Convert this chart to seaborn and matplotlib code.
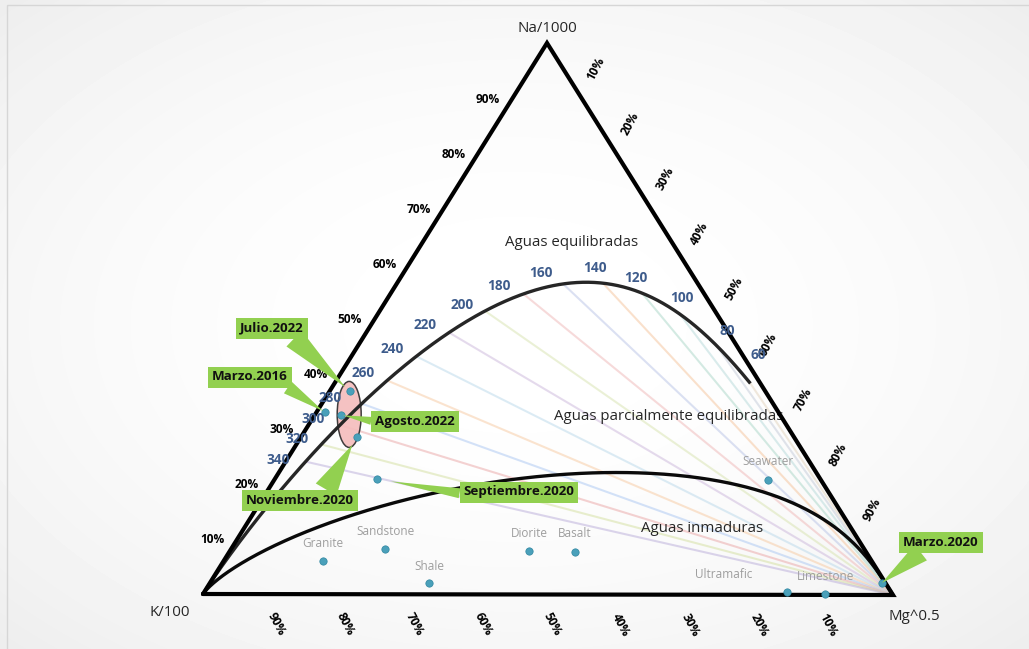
import numpy as np
import pandas as pd
import matplotlib
matplotlib.use("Agg")
import matplotlib.pyplot as plt
from matplotlib.patches import Ellipse, Rectangle
import seaborn as sns

# ---------------------------------------------------------------------------
# Data: relative proportions of Na/1000, K/100 and Mg^0.5
# ---------------------------------------------------------------------------
sample_names = ["Julio.2022", "Marzo.2016", "Agosto.2022",
                "Noviembre.2020", "Septiembre.2020", "Marzo.2020"]
sample_na = [0.368, 0.330, 0.325, 0.285, 0.209, 0.022]
sample_k = [0.603, 0.658, 0.637, 0.634, 0.643, 0.005]
sample_mg = [0.029, 0.012, 0.038, 0.081, 0.148, 0.973]

rock_names = ["Granite", "Sandstone", "Shale", "Diorite", "Basalt",
              "Seawater", "Ultramafic", "Limestone"]
rock_na = [0.060, 0.082, 0.020, 0.078, 0.078, 0.209, 0.005, 0.002]
rock_k = [0.796, 0.695, 0.662, 0.488, 0.422, 0.076, 0.151, 0.097]
rock_mg = [0.144, 0.223, 0.318, 0.434, 0.500, 0.715, 0.844, 0.901]

isotherm_t = [60, 80, 100, 120, 140, 160, 180, 200, 220, 240, 260, 280, 300, 320, 340]
pct_ticks = [10, 20, 30, 40, 50, 60, 70, 80, 90]

# samples enclosed by the highlight ellipse
grouped = ["Julio.2022", "Agosto.2022", "Noviembre.2020"]

# ---------------------------------------------------------------------------
# Layout (figure pixel space) and styling
# ---------------------------------------------------------------------------
W, H = 1029, 649
V_K, V_MG, V_NA = (203.0, 594.0), (893.0, 595.0), (547.0, 43.0)

isotherm_colors = ["#e2d3bc", "#c3cad8", "#b5d9d9", "#a9d6c7", "#f5c39a",
                   "#b8c3e6", "#efb6b6", "#d7e3ae", "#cbb6db", "#b9d8ea",
                   "#f7c9a0", "#a9c6f2", "#eaa5a5", "#d3df9e", "#b9acd9"]
t_label_offsets = [(8, -28), (11, -14), (2, -16), (-6, -15), (-8, -15),
                   (-22, -11), (-25, -8), (-23, -6), (-24, -8), (-24, -7),
                   (-24, -7), (-32, -6), (-27, -6), (-24, -5), (-27, -2)]
rock_label_offsets = [(0, -18), (0, -18), (0, -17), (0, -18), (0, -18),
                      (0, -18), (-63, -18), (0, -17)]

callout_box_xy = [(272, 328), (250, 377), (415, 421), (300, 500), (519, 492), (941, 542)]
callout_relpos = [(0.78, 0.0), (0.92, 0.0), (0.0, 0.45), (0.72, 1.0), (0.0, 0.35), (0.3, 0.0)]
callout_tail_px = [22, 14, 8, 24, 10, 20]
callout_shrink_px = [6, 2, 2, 9, 14, 0]

GREEN = "#92d050"
TEMP_BLUE = "#3e5c8c"
DOT = "#4aa0ba"


def to_xy(na, k, mg):
    na, k, mg = np.asarray(na, float), np.asarray(k, float), np.asarray(mg, float)
    s = na + k + mg
    na, k, mg = na / s, k / s, mg / s
    x = k * V_K[0] + mg * V_MG[0] + na * V_NA[0]
    y = k * V_K[1] + mg * V_MG[1] + na * V_NA[1]
    return x, y


def full_equilibrium(t_c):
    """Giggenbach (1988) full equilibrium: K-Na and K-Mg geothermometers agree."""
    tk = np.asarray(t_c, float) + 273.15
    log_k_na = 1.75 - 1390.0 / tk
    log_k2_mg = 14.0 - 4410.0 / tk
    k = np.ones_like(tk)
    na = k / (10.0 * 10 ** log_k_na)
    mg = 100.0 * k / 10 ** (log_k2_mg / 2.0)
    return na, k, mg


def partial_equilibrium(log_k_na_ratio):
    """Mg-maturity index MI = 2.0, boundary of immature waters."""
    p = np.asarray(log_k_na_ratio, float)
    k = np.ones_like(p)
    na = 10.0 ** (-p)
    mg = 10.0 ** (-(p - 0.26) / 0.63)
    return na, k, mg


sns.set_theme(style="white")
plt.rcParams["font.family"] = ["Open Sans", "DejaVu Sans"]

fig = plt.figure(figsize=(W / 100, H / 100), dpi=100)
ax = fig.add_axes([0, 0, 1, 1])
ax.set_xlim(0, W)
ax.set_ylim(H, 0)
ax.axis("off")

# soft chart-area fill
yy, xx = np.mgrid[0:H, 0:W]
rr = ((xx - W / 2) / (W / 2)) ** 2 + ((yy - H / 2) / (H / 2)) ** 2
shade = 1.0 - 0.035 * np.clip(rr, 0, 2)
ax.imshow(shade, cmap="gray", vmin=0, vmax=1, extent=(0, W, H, 0),
          aspect="auto", zorder=0)
ax.add_patch(Rectangle((7, 5), W + 10, H + 10, fill=False, ec="#d6d6d6", lw=1.0, zorder=0.5))

# K/Na isotherms radiating from the Mg vertex
iso_na, iso_k, iso_mg = full_equilibrium(isotherm_t)
iso_x, iso_y = to_xy(iso_na, iso_k, iso_mg)
for t, x0, y0, col in zip(isotherm_t, iso_x, iso_y, isotherm_colors):
    seg = pd.DataFrame({"x": [x0, V_MG[0]], "y": [y0, V_MG[1]]})
    sns.lineplot(data=seg, x="x", y="y", ax=ax, color=col, lw=1.5, alpha=0.5,
                 sort=False, estimator=None, zorder=1)

# highlight ellipse around the clustered samples
sx, sy = to_xy(sample_na, sample_k, sample_mg)
g_idx = [sample_names.index(n) for n in grouped]
ax.add_patch(Ellipse((np.mean(sx[g_idx]), np.mean(sy[g_idx])), 24, 66,
                     fc="#f5bcbc", ec="#2b2b2b", lw=1.1, alpha=0.9, zorder=2))

# equilibrium curves
t_fine = np.linspace(60, 3000, 3000)
fx, fy = to_xy(*full_equilibrium(t_fine))
ax.plot(fx, fy, color="#262626", lw=2.4, zorder=3, solid_capstyle="butt")
p_fine = np.linspace(-9, 6, 3000)
px, py = to_xy(*partial_equilibrium(p_fine))
ax.plot(px, py, color="#0a0a0a", lw=2.4, zorder=3)

# triangle frame
tri = np.array([V_K, V_MG, V_NA, V_K])
ax.plot(tri[:, 0], tri[:, 1], color="black", lw=3.0, zorder=3.5,
        solid_joinstyle="miter")

# isotherm labels
for t, x0, y0, (dx, dy) in zip(isotherm_t, iso_x, iso_y, t_label_offsets):
    ax.text(x0 + dx, y0 + dy, str(t), color=TEMP_BLUE, fontsize=9.8,
            fontweight="bold", ha="center", va="center", zorder=4)

# axis percentage labels
for p in pct_ticks:
    f = p / 100.0
    # Na along the K-Na side
    x, y = to_xy(f, 1 - f, 0)
    ax.text(x - 25, y + 1, f"{p}%", fontsize=8.6, fontweight="bold",
            ha="center", va="center", color="black")
    # Mg along the Na-Mg side
    x, y = to_xy(1 - f, 0, f)
    ax.text(x + 14, y - 30, f"{p}%", fontsize=8.6, fontweight="bold",
            ha="center", va="center", rotation=62, color="black")
    # K along the K-Mg side
    x, y = to_xy(0, f, 1 - f)
    ax.text(x + 4, y + 30, f"{p}%", fontsize=8.6, fontweight="bold",
            ha="center", va="center", rotation=-62, color="black")

# vertex titles
ax.text(V_NA[0], V_NA[1] - 15, "Na/1000", fontsize=10.8, ha="center", va="center")
ax.text(V_K[0] - 33, V_K[1] + 18, "K/100", fontsize=10.8, ha="center", va="center")
ax.text(V_MG[0] + 21, V_MG[1] + 22, "Mg^0.5", fontsize=10.8, ha="center", va="center")

# field names
ax.text(572, 242, "Aguas equilibradas", fontsize=10.8, ha="center", va="center")
ax.text(669, 416, "Aguas parcialmente equilibradas", fontsize=10.8, ha="center", va="center")
ax.text(702, 529, "Aguas inmaduras", fontsize=10.8, ha="center", va="center")

# rock reference compositions
rx, ry = to_xy(rock_na, rock_k, rock_mg)
sns.scatterplot(x=rx, y=ry, ax=ax, color=DOT, s=28, edgecolor="#2f86a0",
                linewidth=0.5, zorder=5, legend=False)
for name, x0, y0, (dx, dy) in zip(rock_names, rx, ry, rock_label_offsets):
    ax.text(x0 + dx, y0 + dy, name, color="#9e9e9e", fontsize=8.5,
            ha="center", va="center", zorder=5)

# water samples
sns.scatterplot(x=sx, y=sy, ax=ax, color=DOT, s=28, edgecolor="#2f86a0",
                linewidth=0.5, zorder=5, legend=False)

# callouts
fs_call = 9.6
px_per_unit = fs_call * 100 / 72.0
for name, x0, y0, (bx, by), rel, tail, shr in zip(
        sample_names, sx, sy, callout_box_xy, callout_relpos,
        callout_tail_px, callout_shrink_px):
    ax.annotate(name, xy=(x0, y0), xytext=(bx, by), textcoords="data",
                fontsize=fs_call, fontweight="bold", color="#111111",
                ha="center", va="center", zorder=6,
                bbox=dict(boxstyle="square,pad=0.3", fc=GREEN, ec="none"),
                arrowprops=dict(arrowstyle=f"wedge,tail_width={tail / px_per_unit:.2f},shrink_factor=0.5",
                                fc=GREEN, ec="none", relpos=rel,
                                shrinkA=0, shrinkB=shr * 72 / 100))

fig.savefig("out.png", dpi=100)
